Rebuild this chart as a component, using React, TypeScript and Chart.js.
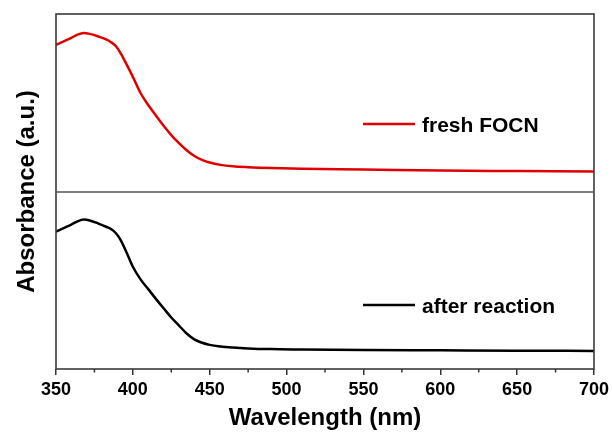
import React, { useEffect, useRef } from "react";
import { Chart, registerables } from "chart.js";

Chart.register(...registerables);

// ---- data ----
const wavelengths = [350, 355, 360, 364, 368, 372, 378, 383, 386, 389, 392, 396, 400, 405, 410, 415, 420, 425, 430, 435, 440, 445, 450, 457, 465, 475, 490, 510, 550, 600, 650, 700];
const freshFOCN = [0.826, 0.846, 0.866, 0.884, 0.893, 0.888, 0.872, 0.855, 0.84, 0.818, 0.78, 0.715, 0.646, 0.555, 0.487, 0.428, 0.37, 0.318, 0.272, 0.232, 0.2, 0.178, 0.163, 0.15, 0.142, 0.137, 0.132, 0.128, 0.124, 0.118, 0.115, 0.112];
const afterReaction = [0.774, 0.794, 0.814, 0.832, 0.842, 0.837, 0.818, 0.8, 0.787, 0.765, 0.728, 0.655, 0.576, 0.505, 0.45, 0.395, 0.342, 0.29, 0.245, 0.2, 0.167, 0.148, 0.136, 0.127, 0.121, 0.116, 0.112, 0.11, 0.107, 0.105, 0.103, 0.102];
const xMajorTicks = [350, 400, 450, 500, 550, 600, 650, 700];
const xMinorTicks = [375, 425, 475, 525, 575, 625, 675];
const seriesLabels = ["fresh FOCN", "after reaction"];
const seriesColors = ["#e00000", "#000000"];
const xTitle = "Wavelength (nm)";
const yTitle = "Absorbance (a.u.)";

const FONT = "'Liberation Sans', Arial, Helvetica, sans-serif";

const decorPlugin = {
  id: "decor",
  afterDraw(chart: any) {
    const ctx = chart.ctx;
    const ca = chart.chartArea;
    const xs = chart.scales.x;
    const yTop = chart.scales.yTop;
    const yBottom = chart.scales.yBottom;
    ctx.save();
    // frame
    ctx.strokeStyle = "#3a3a3a";
    ctx.lineWidth = 1.6;
    ctx.strokeRect(ca.left, ca.top, ca.right - ca.left, ca.bottom - ca.top);
    // divider between panels
    const divY = Math.round(Math.max(yTop.bottom, yBottom.top));
    ctx.strokeStyle = "#555555";
    ctx.lineWidth = 1.5;
    ctx.beginPath();
    ctx.moveTo(ca.left, divY);
    ctx.lineTo(ca.right, divY);
    ctx.stroke();
    // minor ticks
    ctx.strokeStyle = "#333333";
    ctx.lineWidth = 1.5;
    for (const v of xMinorTicks) {
      const px = xs.getPixelForValue(v);
      ctx.beginPath();
      ctx.moveTo(px, ca.bottom);
      ctx.lineTo(px, ca.bottom + 3.5);
      ctx.stroke();
    }
    // legends
    const legendY = [ca.top + 110, divY + 113];
    const lineX0 = ca.left + 307;
    ctx.font = `bold 21px ${FONT}`;
    ctx.textAlign = "left";
    ctx.textBaseline = "alphabetic";
    seriesLabels.forEach((lab, i) => {
      ctx.strokeStyle = seriesColors[i];
      ctx.lineWidth = 2.5;
      ctx.beginPath();
      ctx.moveTo(lineX0, legendY[i]);
      ctx.lineTo(lineX0 + 52, legendY[i]);
      ctx.stroke();
      ctx.fillStyle = "#000";
      ctx.fillText(lab, lineX0 + 59, legendY[i] + 7.5);
    });
    // y title
    ctx.translate(27, (ca.top + ca.bottom) / 2);
    ctx.rotate(-Math.PI / 2);
    ctx.font = `bold 24px ${FONT}`;
    ctx.textAlign = "center";
    ctx.textBaseline = "middle";
    ctx.fillStyle = "#000";
    ctx.fillText(yTitle, 0, 0);
    ctx.restore();
  },
};

export default function App() {
  const ref = useRef<HTMLCanvasElement | null>(null);
  useEffect(() => {
    if (!ref.current) return;
    const mk = (vals: number[]) => wavelengths.map((x, i) => ({ x, y: vals[i] }));
    const chart = new Chart(ref.current, {
      type: "line",
      data: {
        datasets: [
          {
            label: seriesLabels[0],
            data: mk(freshFOCN),
            borderColor: seriesColors[0],
            borderWidth: 2.5,
            pointRadius: 0,
            cubicInterpolationMode: "monotone",
            yAxisID: "yTop",
          },
          {
            label: seriesLabels[1],
            data: mk(afterReaction),
            borderColor: seriesColors[1],
            borderWidth: 2.5,
            pointRadius: 0,
            cubicInterpolationMode: "monotone",
            yAxisID: "yBottom",
          },
        ],
      },
      options: {
        animation: false,
        responsive: false,
        layout: { padding: { left: 56, right: 17, top: 14, bottom: 0 } },
        plugins: { legend: { display: false }, tooltip: { enabled: false } },
        scales: {
          x: {
            type: "linear",
            position: "bottom",
            min: 350,
            max: 700,
            afterBuildTicks: (s: any) => {
              s.ticks = xMajorTicks.map((v) => ({ value: v }));
            },
            afterFit: (s: any) => {
              s.height = 65;
            },
            ticks: {
              color: "#000",
              font: { family: FONT, size: 18, weight: "bold" },
              padding: 4,
              maxRotation: 0,
              autoSkip: false,
            },
            grid: { drawOnChartArea: false, drawTicks: true, tickLength: 6, color: "#333", lineWidth: 1.5 },
            border: { display: false },
            title: {
              display: true,
              text: xTitle,
              color: "#000",
              font: { family: FONT, size: 24, weight: "bold" },
              padding: { top: 0, bottom: 1 },
            },
          },
          yBottom: {
            type: "linear",
            display: false,
            min: 0,
            max: 1,
            position: "left",
            stack: "panels",
            stackWeight: 1,
          },
          yTop: {
            type: "linear",
            display: false,
            min: 0,
            max: 1,
            position: "left",
            stack: "panels",
            stackWeight: 1,
          },
        },
      } as any,
      plugins: [decorPlugin],
    });
    return () => chart.destroy();
  }, []);
  return (
    <div style={{ position: "absolute", left: 0, top: 0, width: 613, height: 434, background: "#fff" }}>
      <canvas ref={ref} width={613} height={434} style={{ display: "block", width: 613, height: 434 }} />
    </div>
  );
}
